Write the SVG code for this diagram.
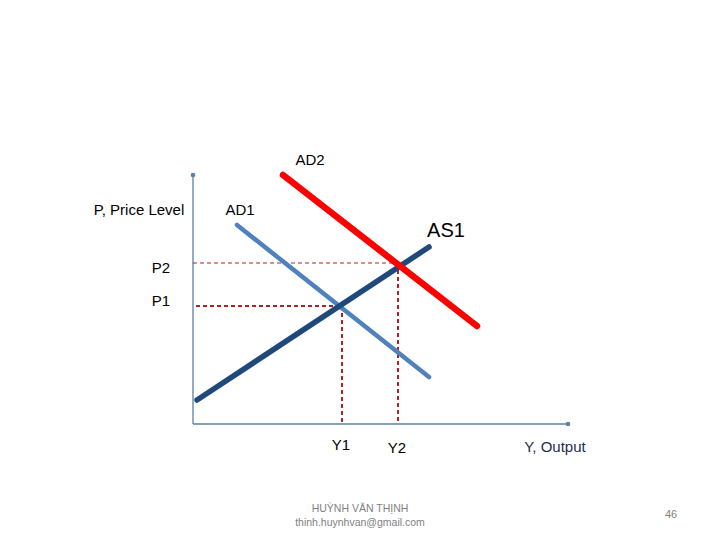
<svg xmlns="http://www.w3.org/2000/svg" width="720" height="540" viewBox="0 0 720 540">
<style>
.t{font-family:"Liberation Sans","DejaVu Sans",sans-serif;fill:#000}
.axis{stroke:#5a7fa8;stroke-width:1.3;fill:none}
.dash{stroke:#b22222;fill:none}
</style>
<defs>
<marker id="dot" markerWidth="6" markerHeight="6" refX="3" refY="3" orient="auto"><circle cx="3" cy="3" r="1.8" fill="#5a7fa8"/></marker>
</defs>
<rect width="720" height="540" fill="#fff"/>
<g id="axes">
<line class="axis" x1="193" y1="424" x2="193" y2="175" marker-end="url(#dot)"/>
<line class="axis" x1="193" y1="424" x2="568" y2="424" marker-end="url(#dot)"/>
</g>
<g id="connectors">
<line class="dash" x1="193" y1="263" x2="398" y2="263" stroke-width="1" stroke-dasharray="4,3"/>
<line class="dash" x1="196" y1="306" x2="342" y2="306" stroke-width="2" stroke-dasharray="4,3"/>
<line class="dash" x1="342" y1="306" x2="342" y2="424" stroke-width="2" stroke-dasharray="4,3"/>
<line class="dash" x1="398" y1="263" x2="398" y2="424" stroke-width="2" stroke-dasharray="4,3"/>
</g>
<g id="AD1"><line x1="237" y1="225" x2="429" y2="377" stroke="#4f81bd" stroke-width="4.5" stroke-linecap="round"/></g>
<g id="AS1"><line x1="197" y1="400" x2="429" y2="247" stroke="#1f497d" stroke-width="5.5" stroke-linecap="round"/></g>
<g id="AD2"><line x1="283" y1="175" x2="477" y2="326" stroke="#ff0000" stroke-width="6.5" stroke-linecap="round"/></g>
<g id="labels">
<text class="t" x="310" y="165" font-size="15" text-anchor="middle">AD2</text>
<text class="t" x="139" y="215" font-size="15" text-anchor="middle">P, Price Level</text>
<text class="t" x="240" y="215" font-size="15" text-anchor="middle">AD1</text>
<text class="t" x="446" y="237" font-size="20" text-anchor="middle">AS1</text>
<text class="t" x="161" y="273" font-size="15" text-anchor="middle">P2</text>
<text class="t" x="161" y="306" font-size="15" text-anchor="middle">P1</text>
<text class="t" x="341" y="450" font-size="15" text-anchor="middle">Y1</text>
<text class="t" x="397" y="453" font-size="15" text-anchor="middle">Y2</text>
<text class="t" x="555" y="452" font-size="15" text-anchor="middle" style="fill:#1f2d4d">Y, Output</text>
<text class="t" x="360" y="512" font-size="10.5" text-anchor="middle" style="fill:#7f7f7f">HUỲNH VĂN THỊNH</text>
<text class="t" x="360" y="526" font-size="10.5" text-anchor="middle" style="fill:#7f7f7f">thinh.huynhvan@gmail.com</text>
<text class="t" x="671" y="518" font-size="11" text-anchor="middle" style="fill:#7f7f7f">46</text>
</g>
</svg>
